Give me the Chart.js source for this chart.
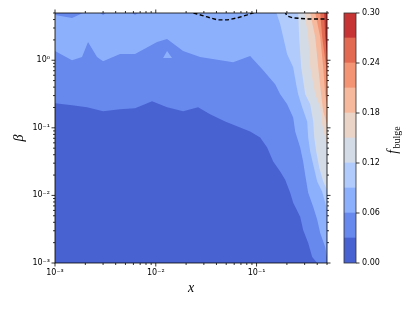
<!DOCTYPE html>
<html>
<head>
<meta charset="utf-8">
<script src="https://cdn.jsdelivr.net/npm/chart.js@4"></script>
<style>
  body { margin: 0; background: #fff; }
  #wrap { position: relative; width: 415px; height: 310px; }
  canvas { position: absolute; top: 0; }
</style>
</head>
<body>
<div id="wrap">
  <canvas id="main" width="415" height="310" style="left:0"></canvas>
  <canvas id="cbar" width="85" height="310" style="left:330px"></canvas>
</div>
<script>
// contour levels of f_bulge and the colour of each band
const fLevels = [0, 0.03, 0.06, 0.09, 0.12, 0.15, 0.18, 0.21, 0.24, 0.27, 0.30];
const bandColors = ['#4862d1', '#6788ed', '#8db0fd', '#b1cbfc', '#d3dbe7',
                    '#ead4c8', '#f6b99d', '#f39475', '#e26a53', '#c63434'];
const cbarTicks = [0, 0.06, 0.12, 0.18, 0.24, 0.30];

// level curves beta(x) [x, beta]
const edge003 = [[0.001,0.2305],[0.001476,0.2152],[0.002079,0.201],[0.003,0.1753],[0.00442,0.1877],
  [0.00623,0.1942],[0.00919,0.2468],[0.01295,0.201],[0.01867,0.1753],[0.0263,0.201],[0.0346,0.1582],
  [0.0488,0.1245],[0.0687,0.1014],[0.0864,0.0884],[0.1086,0.072],[0.1274,0.0511],[0.1462,0.0317],
  [0.1716,0.0225],[0.1923,0.0171],[0.2157,0.01097],[0.231,0.00779],[0.271,0.00483],[0.29,0.00309],
  [0.3254,0.00198],[0.3565,0.00123],[0.40,0.001],[0.43,0.0005],[0.5,0.0005]];
const edge006 = [[0.001,1.365],[0.001476,1.003],[0.001854,1.112],[0.002127,1.857],[0.002613,1.112],
  [0.003,0.97],[0.00442,1.232],[0.00623,1.232],[0.0103,1.857],[0.01295,2.058],[0.01867,1.365],
  [0.02754,1.112],[0.05856,0.937],[0.0864,1.151],[0.1163,0.7126],[0.153,0.4414],[0.1716,0.3135],
  [0.2013,0.2227],[0.231,0.1427],[0.2418,0.0884],[0.271,0.0511],[0.29,0.0317],[0.3038,0.0203],
  [0.3254,0.01097],[0.3648,0.00679],[0.40,0.00435],[0.4282,0.00279],[0.48,0.00173],[0.5,0.00123]];
const edge009 = [[0.001,20],[0.152,20],[0.1578,5],[0.1716,3.44],[0.1838,2.2],[0.2013,1.23],[0.231,0.79],
  [0.2473,0.441],[0.2589,0.3135],[0.2837,0.201],[0.318,0.1245],[0.3254,0.072],[0.3406,0.0446],
  [0.3648,0.0286],[0.3998,0.016],[0.4481,0.01135],[0.48,0.00779],[0.5,0.00613]];
const edge012 = [[0.001,20],[0.255,20],[0.2589,5],[0.2649,2.06],[0.2773,0.79],[0.3038,0.3135],
  [0.3406,0.2227],[0.3648,0.1245],[0.3733,0.072],[0.3907,0.0446],[0.4184,0.0258],[0.4585,0.016],
  [0.5,0.01215]];
const edge015 = [[0.001,20],[0.295,20],[0.2985,5],[0.3254,2.2],[0.3406,0.79],[0.3819,0.3135],
  [0.4282,0.201],[0.4481,0.1124],[0.48,0.072],[0.5,0.0567]];
const edge018 = [[0.001,20],[0.335,20],[0.3406,5],[0.3819,2.2],[0.409,0.79],[0.4381,0.303],
  [0.4585,0.1753],[0.5,0.1124]];
const edge021 = [[0.001,20],[0.375,20],[0.3819,5],[0.4282,2.2],[0.4585,0.79],[0.48,0.303],[0.5,0.2227]];
const edge024 = [[0.001,20],[0.42,20],[0.4282,5],[0.4481,2.2],[0.4912,0.79],[0.5,0.5237]];
const edge027 = [[0.001,20],[0.46,20],[0.4692,5],[0.48,2.2],[0.5,1.232]];
// small pocket of f < 0.06 along the top edge
const topDip = [[0.001,4.68],[0.001476,4.22],[0.001897,5],[0.002798,5],[0.003,4.68],[0.003209,5],
  [0.005816,5],[0.00623,4.68],[0.006672,5]];
// small island of 0.06 < f < 0.09 (upper and lower outline)
const islandTop = [[0.01182,1.075],[0.01295,1.365],[0.01452,1.075]];
const islandBase = [[0.01182,1.075],[0.01452,1.075]];
// dashed contour lines
const dashA = [[0.0205,5.3],[0.0257,4.84],[0.0324,4.37],[0.0408,3.95],[0.0513,3.95],[0.0641,4.23],
  [0.0807,4.68],[0.1014,5.3]];
const dashB = [[0.19,5.3],[0.201,4.52],[0.231,4.23],[0.318,4.08],[0.5,4.08]];

const xTicks = [], yTicks = [];
for (let e = -3; e <= -1; e++) for (let m = 1; m <= 9; m++) if (m * 10 ** e <= 0.5) xTicks.push(m * 10 ** e);
for (let e = -3; e <= 0; e++) for (let m = 1; m <= 9; m++) if (m * 10 ** e <= 5) yTicks.push(m * 10 ** e);

const isDecade = v => Math.abs(Math.log10(v) - Math.round(Math.log10(v))) < 1e-9;
const supMap = { '-': '\u207b', '0': '\u2070', '1': '\u00b9', '2': '\u00b2', '3': '\u00b3' };
const powLabel = v => '10' + String(Math.round(Math.log10(v))).split('').map(c => supMap[c]).join('');
const pts = arr => arr.map(p => ({ x: p[0], y: p[1] }));

const edges = [edge003, edge006, edge009, edge012, edge015, edge018, edge021, edge024, edge027];
const FONT = 'DejaVu Sans';
const NONE = 'rgba(0,0,0,0)';

function seg(ctx, x1, y1, x2, y2) {
  ctx.beginPath(); ctx.moveTo(x1, y1); ctx.lineTo(x2, y2); ctx.stroke();
}

const areaBg = {
  id: 'areaBg',
  beforeDatasetsDraw(chart) {
    const a = chart.chartArea, ctx = chart.ctx;
    ctx.save();
    ctx.fillStyle = bandColors[9];
    ctx.fillRect(a.left, a.top, a.right - a.left, a.bottom - a.top);
    ctx.restore();
  }
};

const frameTicks = {
  id: 'frameTicks',
  afterDraw(chart) {
    const { ctx, chartArea: a, scales: { x, y } } = chart;
    ctx.save();
    ctx.strokeStyle = '#000';
    ctx.lineWidth = 0.8;
    ctx.strokeRect(a.left, a.top, a.right - a.left, a.bottom - a.top);
    xTicks.forEach(v => {
      const p = x.getPixelForValue(v), len = isDecade(v) ? 3.5 : 2;
      seg(ctx, p, a.bottom, p, a.bottom + len);
      seg(ctx, p, a.top, p, a.top - len);
    });
    yTicks.forEach(v => {
      const p = y.getPixelForValue(v), len = isDecade(v) ? 3.5 : 2;
      seg(ctx, a.left, p, a.left - len, p);
      seg(ctx, a.right, p, a.right + len, p);
    });
    ctx.fillStyle = '#000';
    ctx.font = 'italic 14px "Liberation Serif"';
    ctx.textAlign = 'center';
    ctx.textBaseline = 'middle';
    ctx.fillText('x', (a.left + a.right) / 2, 288);
    ctx.translate(19, (a.top + a.bottom) / 2);
    ctx.rotate(-Math.PI / 2);
    ctx.fillText('\u03b2', 0, 0);
    ctx.restore();
  }
};

const datasets = [
  { data: pts(dashA), borderColor: '#000', borderWidth: 1.4, borderDash: [4, 2.5], fill: false },
  { data: pts(dashB), borderColor: '#000', borderWidth: 1.4, borderDash: [4, 2.5], fill: false },
  { data: pts(topDip), borderColor: NONE, borderWidth: 0, fill: 'end', backgroundColor: bandColors[1] },
  { data: pts(islandTop), borderColor: NONE, borderWidth: 0, fill: '+1', backgroundColor: bandColors[2] },
  { data: pts(islandBase), borderColor: NONE, borderWidth: 0, fill: false }
].concat(edges.map((e, i) => ({
  data: pts(e), borderColor: NONE, borderWidth: 0, fill: 'start', backgroundColor: bandColors[i]
})));
datasets.forEach(d => { d.pointRadius = 0; d.tension = 0; });

new Chart(document.getElementById('main'), {
  type: 'line',
  data: { datasets },
  options: {
    responsive: false,
    animation: false,
    devicePixelRatio: 1,
    layout: { padding: { left: 0, top: 13, right: 88, bottom: 0 } },
    plugins: { legend: { display: false }, tooltip: { enabled: false } },
    scales: {
      x: {
        type: 'logarithmic', min: 0.001, max: 0.5,
        afterFit: s => { s.height = 47; },
        afterBuildTicks: s => { s.ticks = xTicks.map(v => ({ value: v })); },
        grid: { display: false, drawTicks: false }, border: { display: false },
        ticks: { autoSkip: false, maxRotation: 0, padding: 5, color: '#000',
                 font: { family: FONT, size: 8 }, callback: v => isDecade(v) ? powLabel(v) : '' }
      },
      y: {
        type: 'logarithmic', min: 0.001, max: 5,
        afterFit: s => { s.width = 55; },
        afterBuildTicks: s => { s.ticks = yTicks.map(v => ({ value: v })); },
        grid: { display: false, drawTicks: false }, border: { display: false },
        ticks: { autoSkip: false, padding: 5, color: '#000',
                 font: { family: FONT, size: 8 }, callback: v => isDecade(v) ? powLabel(v) : '' }
      }
    }
  },
  plugins: [areaBg, frameTicks]
});

// colour bar
const cbarFrame = {
  id: 'cbarFrame',
  afterDraw(chart) {
    const { ctx, chartArea: a, scales: { y } } = chart;
    ctx.save();
    ctx.strokeStyle = '#333';
    ctx.lineWidth = 0.8;
    ctx.strokeRect(a.left, a.top, a.right - a.left, a.bottom - a.top);
    ctx.strokeStyle = '#000';
    cbarTicks.forEach(v => {
      const p = y.getPixelForValue(v);
      seg(ctx, a.right, p, a.right + 3.5, p);
    });
    ctx.fillStyle = '#000';
    ctx.translate(64, 140);
    ctx.rotate(-Math.PI / 2);
    ctx.font = 'italic 14px "Liberation Serif"';
    const fw = ctx.measureText('f').width;
    ctx.font = '10px "Liberation Serif"';
    const bw = ctx.measureText('bulge').width;
    let sx = -(fw + 1.5 + bw) / 2;
    ctx.font = 'italic 14px "Liberation Serif"';
    ctx.fillText('f', sx, 3);
    ctx.font = '10px "Liberation Serif"';
    ctx.fillText('bulge', sx + fw + 1.5, 6);
    ctx.restore();
  }
};

new Chart(document.getElementById('cbar'), {
  type: 'bar',
  data: {
    labels: ['f'],
    datasets: bandColors.map((c, i) => ({
      data: [fLevels[i + 1] - fLevels[i]], backgroundColor: c, borderWidth: 0,
      barPercentage: 1, categoryPercentage: 1
    }))
  },
  options: {
    responsive: false,
    animation: false,
    devicePixelRatio: 1,
    layout: { padding: { left: 14, top: 13, right: 0, bottom: 47 } },
    plugins: { legend: { display: false }, tooltip: { enabled: false } },
    scales: {
      x: { display: false, stacked: true },
      y: {
        stacked: true, position: 'right', min: 0, max: 0.3,
        afterFit: s => { s.width = 59; },
        afterBuildTicks: s => { s.ticks = cbarTicks.map(v => ({ value: v })); },
        grid: { display: false, drawTicks: false }, border: { display: false },
        ticks: { padding: 6, color: '#000', font: { family: FONT, size: 8 },
                 callback: v => v.toFixed(2) }
      }
    }
  },
  plugins: [cbarFrame]
});
</script>
</body>
</html>
